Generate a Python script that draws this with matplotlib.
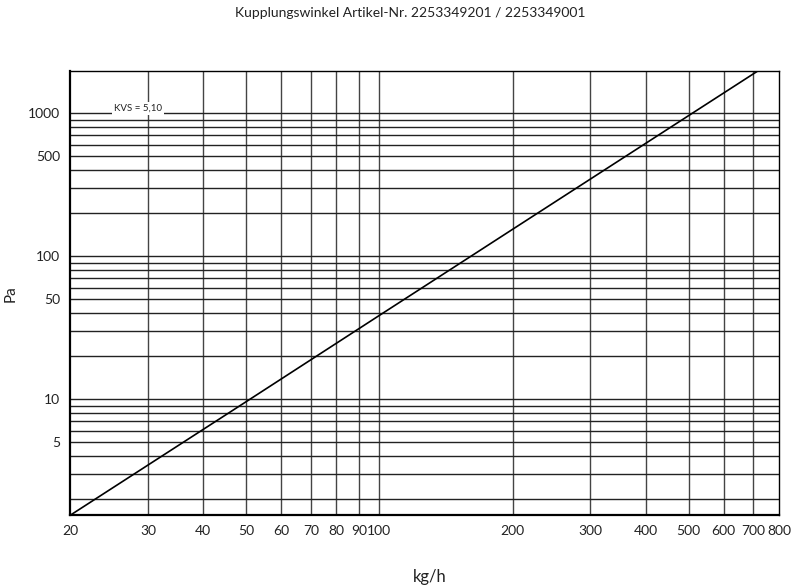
import matplotlib
matplotlib.use("Agg")
import matplotlib.pyplot as plt
from matplotlib.ticker import FixedLocator, NullFormatter, NullLocator

# values
flow_kgh = [20, 50, 100, 200, 500, 720]
dp_pa    = [1.54, 9.6, 38.5, 154, 961, 1990]

x_grid   = [30, 40, 50, 60, 70, 80, 90, 100, 200, 300, 400, 500, 600, 700]
x_ticks  = [20, 30, 40, 50, 60, 70, 80, 90, 100, 200, 300, 400, 500, 600, 700, 800]
y_grid   = [2, 3, 4, 5, 6, 7, 8, 9, 10, 20, 30, 40, 50, 60, 70, 80, 90, 100,
            200, 300, 400, 500, 600, 700, 800, 900, 1000]
y_ticks  = [5, 10, 50, 100, 500, 1000]

plt.rcParams['font.family'] = ['Lato', 'DejaVu Sans']

fig = plt.figure(figsize=(7.93, 5.87), dpi=100)
ax = fig.add_axes([0.0883, 0.1227, 0.894, 0.7563])
ax.set_xscale('log')
ax.set_yscale('log')
ax.set_xlim(20, 800)
ax.set_ylim(1.55, 1970)

for xv in x_grid:
    ax.axvline(xv, color='#444444', lw=1.0, zorder=1)
for yv in y_grid:
    ax.axhline(yv, color='#222222', lw=1.0, zorder=1)

ax.plot(flow_kgh, dp_pa, color='black', lw=1.2, zorder=3)

ax.text(28.5, 1000, 'KVS = 5,10', fontsize=7, ha='center', va='bottom',
        color='#222222', zorder=4,
        bbox=dict(facecolor='white', edgecolor='none', pad=1.2))

ax.xaxis.set_major_locator(FixedLocator(x_ticks))
ax.xaxis.set_minor_locator(NullLocator())
ax.xaxis.set_minor_formatter(NullFormatter())
ax.set_xticklabels([str(v) for v in x_ticks])
ax.yaxis.set_major_locator(FixedLocator(y_ticks))
ax.yaxis.set_minor_locator(NullLocator())
ax.yaxis.set_minor_formatter(NullFormatter())
ax.set_yticklabels([str(v) for v in y_ticks])
ax.tick_params(length=0, labelsize=10, pad=7, colors='#222222')

for side in ['left', 'bottom']:
    ax.spines[side].set_linewidth(1.6)
for side in ['top', 'right']:
    ax.spines[side].set_linewidth(1.0)

fig.text(0.517, 0.978, 'Kupplungswinkel Artikel-Nr. 2253349201 / 2253349001',
         ha='center', va='center', fontsize=10, color='#222222')
fig.text(0.542, 0.017, 'kg/h', ha='center', va='center', fontsize=12,
         color='#222222')
fig.text(0.013, 0.50, 'Pa', ha='center', va='center', rotation=90,
         fontsize=11, color='#222222')

fig.savefig('out.png', dpi=100)
